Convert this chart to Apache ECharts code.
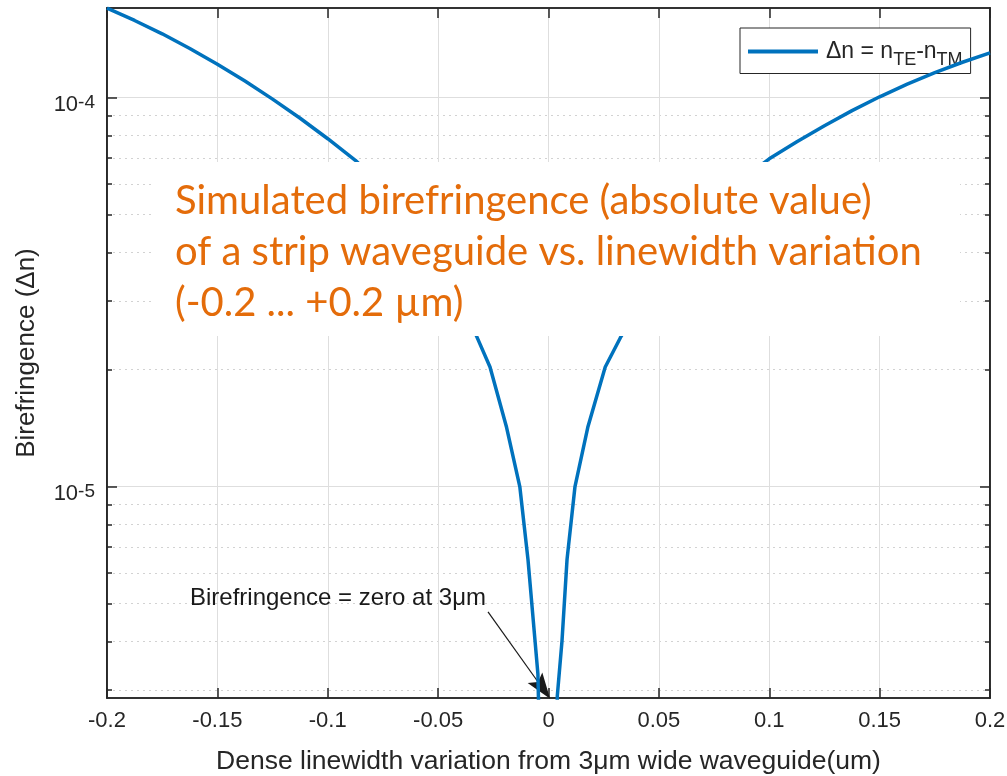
<!DOCTYPE html>
<html>
<head>
<meta charset="utf-8">
<title>Birefringence vs linewidth variation</title>
<script src="https://cdn.jsdelivr.net/npm/echarts@6/dist/echarts.min.js"></script>
<style>
  html, body { margin: 0; padding: 0; background: #fff; }
  #chart { width: 1007px; height: 776px; }
</style>
</head>
<body>
<div id="chart"></div>
<script>
// linewidth variation (um) and |n_TE - n_TM|
const widthVariation = [
  -0.2, -0.1875, -0.175, -0.1625, -0.15, -0.1375, -0.125, -0.1125, -0.1, -0.0875,
  -0.075, -0.0625, -0.05, -0.04, -0.0325, -0.0265, -0.019, -0.013, -0.0093, -0.0048, 0,
  0.004, 0.0061, 0.0084, 0.012, 0.0178, 0.0257, 0.0325, 0.04, 0.05, 0.0625,
  0.075, 0.0875, 0.1, 0.1125, 0.125, 0.1375, 0.15, 0.1625, 0.175, 0.1875, 0.2
];
const birefringence = [
  1.698e-4, 1.579e-4, 1.459e-4, 1.338e-4, 1.219e-4, 1.103e-4, 9.91e-5, 8.85e-5, 7.84e-5, 6.90e-5,
  5.91e-5, 4.82e-5, 3.74e-5, 2.96e-5, 2.43e-5, 2.03e-5, 1.42e-5, 1.0e-5, 6.5e-6, 3.3e-6, 2e-7,
  2.9e-6, 4.0e-6, 6.5e-6, 1.0e-5, 1.42e-5, 2.03e-5, 2.41e-5, 2.85e-5, 3.49e-5, 4.36e-5,
  5.27e-5, 6.16e-5, 6.96e-5, 7.70e-5, 8.47e-5, 9.26e-5, 1.005e-4, 1.083e-4, 1.159e-4, 1.233e-4, 1.303e-4
];

const yMajorTicks = [1e-5, 1e-4];
const yMinorTicks = [3e-6, 4e-6, 5e-6, 6e-6, 7e-6, 8e-6, 9e-6,
  2e-5, 3e-5, 4e-5, 5e-5, 6e-5, 7e-5, 8e-5, 9e-5];

const arrowFrom = [-0.0274, 4.76e-6];
const arrowTo = [-0.0027, 3.03e-6];

const titleLines = [
  'Simulated birefringence (absolute value)',
  'of a strip waveguide vs. linewidth variation',
  '(-0.2 ... +0.2 µm)'
];

const AXIS = '#262626';
const FONT = '"Liberation Sans", Arial, sans-serif';
const ORANGE = '#E46C0A';
const Y_MIN = 2.86e-6;
const Y_MAX = 1.70e-4;

const chart = echarts.init(document.getElementById('chart'));

function yAxisFor(position, ticks, len, major) {
  const ax = {
    type: 'log',
    logBase: 10,
    show: true,
    position: position,
    offset: 0,
    min: Y_MIN,
    max: Y_MAX,
    axisLine: { show: true, onZero: false, lineStyle: { color: AXIS, width: 1.5 } },
    axisTick: { show: true, inside: true, length: len, customValues: ticks, lineStyle: { color: AXIS, width: 1.5 } },
    axisLabel: { show: false },
    splitLine: { show: false }
  };
  if (position === 'left') {
    ax.splitLine = major
      ? { show: true, lineStyle: { color: '#dedede', width: 1 } }
      : { show: true, lineStyle: { color: '#d2d2d2', width: 1, type: [2, 4] } };
  }
  if (position === 'left' && major) {
    ax.name = 'Birefringence (\u0394n)';
    ax.nameLocation = 'middle';
    ax.nameGap = 67;
    ax.nameTextStyle = { color: AXIS, fontSize: 26, fontFamily: FONT };
    ax.axisLabel = {
      show: true,
      customValues: ticks,
      margin: 12,
      padding: [14, 0, 0, 0],
      formatter: function (v) {
        return '{b|10}{s|' + Math.round(Math.log10(v)) + '}';
      },
      rich: {
        b: { fontSize: 22, fontFamily: FONT, color: AXIS, lineHeight: 22, verticalAlign: 'bottom', padding: [6, 0, 0, 0] },
        s: { fontSize: 19, fontFamily: FONT, color: AXIS, lineHeight: 19, verticalAlign: 'top' }
      }
    };
  }
  return ax;
}

const option = {
  animation: false,
  backgroundColor: '#fff',
  grid: {
    left: 107, right: 17, top: 8, bottom: 78, containLabel: false, outerBoundsMode: 'none',
    show: true, borderColor: AXIS, borderWidth: 1.5, backgroundColor: 'transparent'
  },
  legend: {
    left: 740,
    top: 28,
    padding: [12, 8, 4, 8],
    borderColor: AXIS,
    borderWidth: 1,
    backgroundColor: '#fff',
    icon: 'rect',
    itemWidth: 70,
    itemHeight: 4,
    formatter: function () {
      return '{a|\u0394n = n}{s|TE}{a|-n}{s|TM}';
    },
    textStyle: {
      padding: [0, 0, 0, 3],
      rich: {
        a: { fontSize: 23, fontFamily: FONT, color: AXIS, lineHeight: 36 },
        s: { fontSize: 18, fontFamily: FONT, color: AXIS, lineHeight: 10, verticalAlign: 'bottom' }
      }
    }
  },
  xAxis: [
    {
      type: 'value',
      position: 'bottom',
      min: -0.2,
      max: 0.2,
      interval: 0.05,
      name: 'Dense linewidth variation from 3\u03bcm wide waveguide(um)',
      nameLocation: 'middle',
      nameGap: 50,
      nameTextStyle: { color: AXIS, fontSize: 26.5, fontFamily: FONT },
      axisLine: { onZero: false, lineStyle: { color: AXIS, width: 1.5 } },
      axisTick: { inside: true, length: 10, lineStyle: { color: AXIS, width: 1.5 } },
      axisLabel: {
        color: AXIS, fontSize: 22, fontFamily: FONT, margin: 12,
        formatter: function (v) { return String(+v.toFixed(2)); }
      },
      splitLine: { show: true, lineStyle: { color: '#dedede', width: 1 } }
    },
    {
      type: 'value',
      position: 'top',
      min: -0.2,
      max: 0.2,
      interval: 0.05,
      axisLine: { onZero: false, lineStyle: { color: AXIS, width: 1.5 } },
      axisTick: { inside: true, length: 10, lineStyle: { color: AXIS, width: 1.5 } },
      axisLabel: { show: false },
      splitLine: { show: false }
    }
  ],
  yAxis: [
    yAxisFor('left', yMajorTicks, 10, true),
    yAxisFor('left', yMinorTicks, 5, false),
    yAxisFor('right', yMajorTicks, 10, true),
    yAxisFor('right', yMinorTicks, 5, false)
  ],
  series: [
    {
      name: '\u0394n = n_TE - n_TM',
      type: 'line',
      xAxisIndex: 0,
      yAxisIndex: 0,
      data: widthVariation.map((x, i) => [x, birefringence[i]]),
      showSymbol: false,
      symbol: 'none',
      clip: true,
      color: '#0072BD',
      lineStyle: { color: '#0072BD', width: 3.5 },
      z: 5,
      markLine: {
        silent: true,
        symbol: ['none', 'path://M0,0 L1,2 L0,1.6 L-1,2 Z'],
        symbolSize: [18, 26],
        label: { show: false },
        lineStyle: { color: '#1a1a1a', width: 1.2, type: 'solid' },
        itemStyle: { color: '#111' },
        data: [[{ coord: arrowFrom }, { coord: arrowTo }]]
      }
    }
  ],
  graphic: [
    { type: 'rect', left: 152, top: 162, shape: { width: 808, height: 174 }, style: { fill: '#fff' }, z: 100 },
    { type: 'text', x: 175, y: 201, z: 101, style: { text: titleLines[0], fill: ORANGE, font: '40px Lato', verticalAlign: 'middle', align: 'left' } },
    { type: 'text', x: 175, y: 252, z: 101, style: { text: titleLines[1], fill: ORANGE, font: '40px Lato', verticalAlign: 'middle', align: 'left' } },
    { type: 'text', x: 175, y: 303, z: 101, style: { text: titleLines[2], fill: ORANGE, font: '40px Lato', verticalAlign: 'middle', align: 'left' } },
    { type: 'text', x: 190, y: 598, z: 101, style: { text: 'Birefringence = zero at 3\u03bcm', fill: '#1a1a1a', font: '24px "Liberation Sans", Arial, sans-serif', verticalAlign: 'middle', align: 'left' } }
  ]
};

chart.setOption(option);
</script>
</body>
</html>
